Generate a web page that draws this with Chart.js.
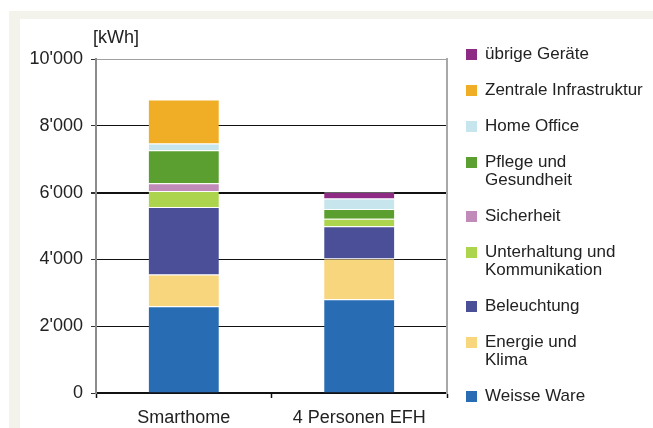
<!DOCTYPE html>
<html>
<head>
<meta charset="utf-8">
<script src="https://cdn.jsdelivr.net/npm/chart.js@4"></script>
<style>
    html, body { margin: 0; padding: 0; background: #fff; overflow: hidden; }
    body { width: 653px; height: 428px; position: relative; }
    .outer { position: absolute; left: 9px; top: 11px; right: 0; bottom: 0; background: #f3f2eb; }
    .inner { position: absolute; left: 20px; top: 19px; right: 0; bottom: 0; background: #fff; }
    #chart { position: absolute; left: 0; top: 0; }
</style>
</head>
<body>
<div class="outer"></div>
<div class="inner"></div>
<canvas id="chart" width="653" height="428"></canvas>
<script>
// categories
const categories = ['Smarthome', '4 Personen EFH'];

// series values in kWh (Smarthome, 4 Personen EFH), bottom of stack first
const weisseWare = [2600, 2810];
const energieKlima = [950, 1220];
const beleuchtung = [2020, 960];
const unterhaltung = [480, 230];
const sicherheit = [230, 0];
const pflege = [990, 290];
const homeOffice = [200, 310];
const zentrale = [1320, 0];
const uebrige = [0, 200];

// legend labels (line breaks as in the legend)
const seriesNames = [
    'Weisse Ware',
    'Energie und\nKlima',
    'Beleuchtung',
    'Unterhaltung und\nKommunikation',
    'Sicherheit',
    'Pflege und\nGesundheit',
    'Home Office',
    'Zentrale Infrastruktur',
    'übrige Geräte'
];
const seriesColors = [
    '#286db4', '#f7d67d', '#4a4f98', '#acd44d', '#c18bb9',
    '#5a9f2f', '#c7e5ed', '#f0ae26', '#8d2a83'
];

// y axis ticks
const yTicks = [0, 2000, 4000, 6000, 8000, 10000];
const unitLabel = '[kWh]';

const seriesValues = [weisseWare, energieKlima, beleuchtung, unterhaltung, sicherheit,
    pflege, homeOffice, zentrale, uebrige];

const FONT = '"Liberation Sans", Arial, Helvetica, sans-serif';
const TEXT = '#222';

function fmt(v) {
    return v >= 1000 ? Math.floor(v / 1000) + "'" + String(v % 1000).padStart(3, '0') : String(v);
}

// legend + unit label drawn on the canvas, right of the plot
const sideLegend = {
    id: 'sideLegend',
    afterDraw(chart) {
        const ctx = chart.ctx;
        ctx.save();
        ctx.fillStyle = TEXT;
        ctx.textBaseline = 'middle';
        ctx.textAlign = 'left';
        ctx.font = '18px ' + FONT;
        ctx.fillText(unitLabel, chart.chartArea.left - 3, 38);

        ctx.font = '17px ' + FONT;
        let y = 54;
        for (let i = seriesNames.length - 1; i >= 0; i--) {
            const lines = seriesNames[i].split('\n');
            ctx.fillStyle = seriesColors[i];
            ctx.fillRect(466, y - 5, 11, 11);
            ctx.fillStyle = TEXT;
            lines.forEach((line, k) => ctx.fillText(line, 485, y + k * 18));
            y += 36 + 18 * (lines.length - 1);
        }
        ctx.restore();
    }
};

const datasets = seriesValues.map((vals, i) => ({
    label: seriesNames[i].replace('\n', ' '),
    data: vals,
    backgroundColor: seriesColors[i],
    borderColor: 'rgba(255,255,255,0.35)',
    borderWidth: { top: 1, bottom: 0, left: 0, right: 0 },
    borderSkipped: false,
    barPercentage: 0.4,
    categoryPercentage: 1.0
}));

new Chart(document.getElementById('chart'), {
    type: 'bar',
    data: { labels: categories, datasets: datasets },
    options: {
        responsive: false,
        animation: false,
        devicePixelRatio: 1,
        layout: { padding: { left: 0, top: 59, right: 206, bottom: 0 } },
        plugins: { legend: { display: false }, tooltip: { enabled: false } },
        scales: {
            x: {
                stacked: true,
                afterFit: s => { s.height = 35; },
                grid: {
                    display: true,
                    offset: true,
                    drawOnChartArea: false,
                    drawTicks: true,
                    tickLength: 5,
                    tickColor: '#111',
                    tickWidth: 1.5
                },
                border: { display: true, color: '#111', width: 2 },
                ticks: { color: TEXT, font: { family: FONT, size: 18 }, padding: 9 }
            },
            y: {
                stacked: true,
                min: 0,
                max: 10000,
                afterFit: s => { s.width = 96; },
                afterBuildTicks: s => { s.ticks = yTicks.map(v => ({ value: v })); },
                grid: {
                    color: c => c.tick && c.tick.value === 10000 ? '#a0a0a0' : '#111',
                    lineWidth: c => c.tick && c.tick.value === 6000 ? 2 : 1,
                    tickColor: '#333',
                    tickLength: 5
                },
                border: { display: true, color: '#8c8c8c', width: 2 },
                ticks: {
                    color: TEXT,
                    font: { family: FONT, size: 18 },
                    padding: 8,
                    callback: v => fmt(v)
                }
            },
            y2: {
                position: 'right',
                min: 0,
                max: 10000,
                afterFit: s => { s.width = 0; },
                grid: { display: false },
                ticks: { display: false },
                border: { display: true, color: '#a8a8a8', width: 2 }
            }
        }
    },
    plugins: [sideLegend]
});
</script>
</body>
</html>
